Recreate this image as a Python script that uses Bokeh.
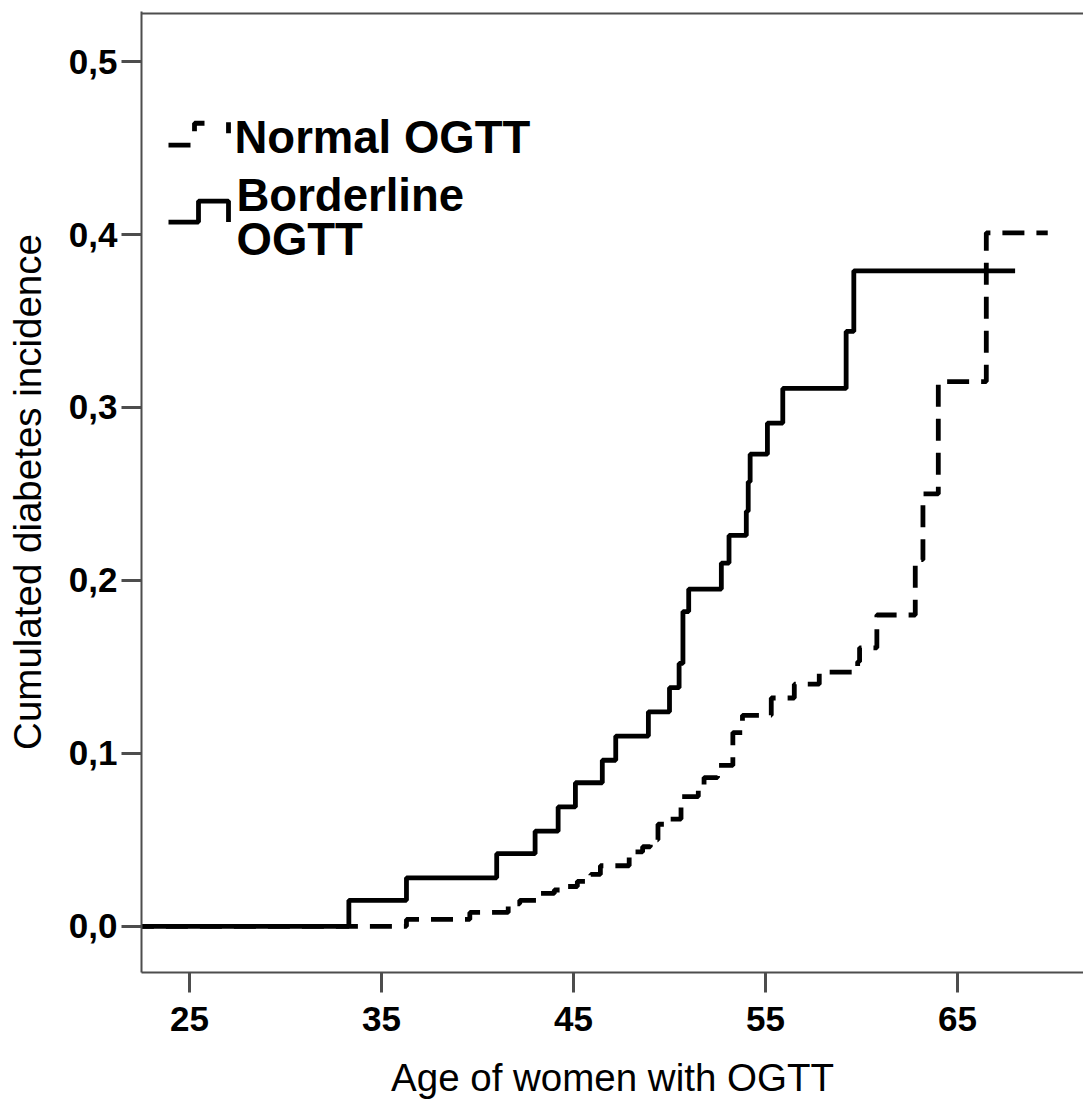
from bokeh.plotting import figure
from bokeh.models import FixedTicker, Range1d, Span, Label
from bokeh.embed import file_html
from bokeh.resources import INLINE

# ---- data ----
borderline_age = [22.0, 33.3, 36.3, 41.0, 43.0, 44.2, 45.1, 46.5, 47.2, 48.9, 50.0, 50.5,
                  50.7, 51.0, 52.7, 53.1, 54.0, 54.1, 54.2, 55.1, 55.9, 59.2, 59.6, 68.0]
borderline_cum = [0.0, 0.015, 0.028, 0.042, 0.055, 0.069, 0.083, 0.096, 0.110, 0.124, 0.138, 0.152,
                  0.182, 0.195, 0.210, 0.226, 0.240, 0.257, 0.273, 0.291, 0.311, 0.344, 0.379, 0.379]

normal_age = [22.0, 36.3, 39.6, 41.6, 42.2, 43.1, 44.0, 44.7, 45.2, 45.9, 46.4, 47.9, 48.6,
              49.0, 49.4, 49.9, 50.6, 51.5, 51.8, 52.5, 53.3, 53.8, 55.3, 56.5, 57.8, 59.8,
              59.9, 60.8, 62.8, 63.2, 64.0, 66.5, 69.7]
normal_cum = [0.0, 0.004, 0.008, 0.013, 0.015, 0.019, 0.021, 0.023, 0.026, 0.030, 0.035, 0.043, 0.046,
              0.050, 0.059, 0.062, 0.075, 0.081, 0.086, 0.093, 0.112, 0.122, 0.132, 0.140, 0.147, 0.153,
              0.161, 0.180, 0.212, 0.250, 0.315, 0.401, 0.401]

x_ticks = [25, 35, 45, 55, 65]
y_ticks = [0.0, 0.1, 0.2, 0.3, 0.4, 0.5]
y_tick_labels = ["0,0", "0,1", "0,2", "0,3", "0,4", "0,5"]
series_names = ["Normal OGTT", "Borderline", "OGTT"]

FONT = "Liberation Sans"
AXIS_COLOR = "#4d4d4d"

W, H = 1083, 1101
LEFT, TOP, BOTTOM = 141, 11, 974
PX_PER_YEAR = 19.2
PX_PER_UNIT = 1733.0
X_REF_PX, X_REF = 189, 25
Y_ZERO_PX = 927.7

X0 = X_REF - (X_REF_PX - LEFT) / PX_PER_YEAR
X1 = X_REF + (W - X_REF_PX) / PX_PER_YEAR
Y0 = -(BOTTOM - Y_ZERO_PX) / PX_PER_UNIT
Y1 = (Y_ZERO_PX - TOP) / PX_PER_UNIT

p = figure(width=W, height=H, output_backend="svg", toolbar_location=None,
           x_range=Range1d(X0, X1), y_range=Range1d(Y0, Y1),
           min_border_left=LEFT, min_border_right=0, min_border_top=TOP,
           min_border_bottom=H - BOTTOM)
p.outline_line_color = None
p.xgrid.visible = False
p.ygrid.visible = False
p.background_fill_color = "white"
p.border_fill_color = "white"

def px2x(px):
    return X_REF + (px - X_REF_PX) / PX_PER_YEAR
def py2y(py):
    return (Y_ZERO_PX - py) / PX_PER_UNIT

# top frame line
p.add_layout(Span(location=py2y(13), dimension="width", line_color=AXIS_COLOR, line_width=2))

for ax in (p.xaxis[0], p.yaxis[0]):
    ax.axis_line_color = AXIS_COLOR
    ax.axis_line_width = 2
    ax.major_tick_line_color = AXIS_COLOR
    ax.major_tick_line_width = 3
    ax.major_tick_out = 20
    ax.major_tick_in = 0
    ax.minor_tick_line_color = None
    ax.major_label_text_font = FONT
    ax.major_label_text_font_style = "bold"
    ax.major_label_text_font_size = "35px"
    ax.major_label_text_color = "black"
    ax.axis_label_text_font = FONT
    ax.axis_label_text_font_style = "normal"
    ax.axis_label_text_font_size = "38.5px"
    ax.axis_label_text_color = "black"

p.xaxis.ticker = FixedTicker(ticks=x_ticks)
p.yaxis.ticker = FixedTicker(ticks=y_ticks)
p.yaxis.major_label_overrides = {t: l for t, l in zip(y_ticks, y_tick_labels)}
p.xaxis.major_label_standoff = 14
p.yaxis.major_label_standoff = 4
p.xaxis.axis_label = "Age of women with OGTT"
p.yaxis.axis_label = "Cumulated diabetes incidence"
p.xaxis.axis_label_standoff = 22
p.yaxis.axis_label_standoff = 17

LW = 4.8
DASH = "22 12"
p.step(borderline_age, borderline_cum, mode="after", line_color="black", line_width=LW)
p.step(normal_age, normal_cum, mode="after", line_color="black", line_width=LW, line_dash=DASH)

# ---- legend (drawn manually; icon pieces at reference pixel positions) ----
dash_icon_px = [
    [(168, 145), (190, 145)],
    [(194, 131), (194, 123), (204, 123)],
    [(228, 122), (228, 133)],
]
p.multi_line([[px2x(a) for a, _ in seg] for seg in dash_icon_px],
             [[py2y(b) for _, b in seg] for seg in dash_icon_px],
             line_color="black", line_width=LW)
solid_icon_px = [(168, 222), (198, 222), (198, 201), (228, 201), (228, 222)]
p.line([px2x(a) for a, _ in solid_icon_px], [py2y(b) for _, b in solid_icon_px],
       line_color="black", line_width=LW)

for txt, tx, ty in [(series_names[0], 234, 137), (series_names[1], 236, 195), (series_names[2], 236, 239)]:
    p.add_layout(Label(x=px2x(tx), y=py2y(ty), text=txt, text_font=FONT, text_font_style="bold",
                       text_font_size="45.5px", text_color="black", text_baseline="alphabetic"))

open("out.html", "w").write(file_html(p, INLINE))
